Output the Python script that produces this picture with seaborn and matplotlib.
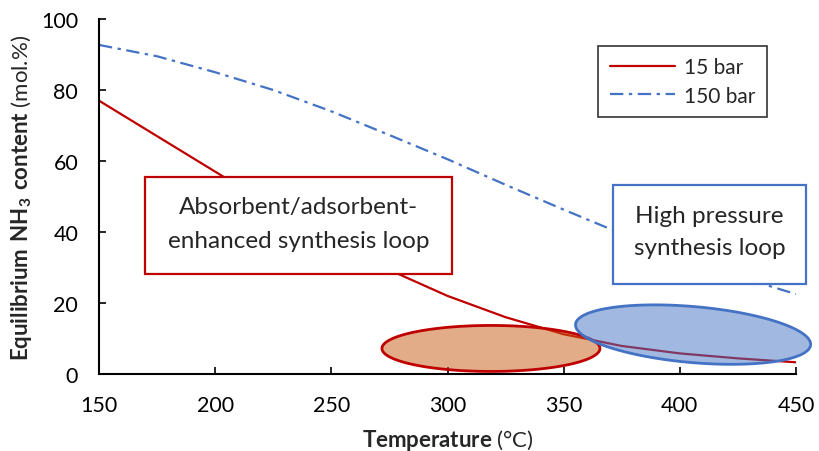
import numpy as np
import pandas as pd
import seaborn as sns
import matplotlib.pyplot as plt
from matplotlib.patches import Rectangle, Polygon

sns.set_theme(style="white")
plt.rcParams["font.family"] = ["Lato", "DejaVu Sans"]
plt.rcParams["mathtext.fontset"] = "custom"
plt.rcParams["mathtext.bf"] = "Lato:bold"
plt.rcParams["mathtext.rm"] = "Lato"

# data
temperature = [150, 175, 200, 225, 250, 275, 300, 325, 350, 375, 400, 425, 450]
nh3_15bar = [77, 67, 57, 47, 37.5, 29.3, 22, 16, 11.2, 7.9, 5.8, 4.4, 3.3]
nh3_150bar = [92.7, 89.5, 85, 80, 74, 67.3, 60.5, 53.3, 46.3, 39.5, 33, 27.5, 22.5]
series = ["15 bar", "150 bar"]
colors = {"15 bar": "#C00000", "150 bar": "#4472C4"}

df = pd.DataFrame({
    "T": temperature * 2,
    "NH3": nh3_15bar + nh3_150bar,
    "p": [series[0]] * len(temperature) + [series[1]] * len(temperature),
})

W, H = 819, 452
fig = plt.figure(figsize=(W / 100, H / 100), dpi=100)
L, R, T_, B = 99, 796, 20, 375
ax = fig.add_axes([L / W, 1 - B / H, (R - L) / W, (B - T_) / H])

sns.lineplot(data=df, x="T", y="NH3", hue="p", style="p", palette=colors,
             dashes={"15 bar": "", "150 bar": (6, 2.5, 1.5, 2.5)},
             linewidth=1.6, ax=ax, zorder=2)

ax.set_xlim(150, 450)
ax.set_ylim(0, 100)
ax.set_xticks(range(150, 451, 50))
ax.set_yticks(range(0, 101, 20))
for s in ["top", "right"]:
    ax.spines[s].set_visible(False)
for s in ["left", "bottom"]:
    ax.spines[s].set_color("black")
    ax.spines[s].set_linewidth(1.5)
ax.tick_params(direction="in", length=5, width=1.2, colors="black",
               labelsize=15.5, left=True, bottom=True)
ax.tick_params(axis="x", pad=15)
ax.tick_params(axis="y", pad=15)
ax.set_xlabel(r"$\bf{Temperature}$ (°C)", fontsize=16, labelpad=9)
ax.set_ylabel(r"$\bf{Equilibrium\ NH_3\ content}$ (mol.%)", fontsize=16, labelpad=5)

leg = ax.legend(loc="upper right", bbox_to_anchor=(0.958, 0.924), frameon=True,
                fancybox=False, edgecolor="black", handlelength=3.1,
                handletextpad=0.45, borderaxespad=0,
                prop={"family": "Lato", "size": 15}, borderpad=0.55,
                labelspacing=0.4)
leg.get_frame().set_linewidth(1.2)
leg.set_title(None)

# pixel-space ellipses converted to data units
sx = (R - L) / 300.0
sy = (B - T_) / 100.0


def ellipse(cx, cy, a, b, ang, fc, ec):
    t = np.linspace(0, 2 * np.pi, 200)
    th = np.deg2rad(ang)
    px = a * np.cos(t) * np.cos(th) - b * np.sin(t) * np.sin(th)
    py = a * np.cos(t) * np.sin(th) + b * np.sin(t) * np.cos(th)
    pts = np.column_stack([cx + px / sx, cy + py / sy])
    ax.add_patch(Polygon(pts, closed=True, facecolor=fc, edgecolor="none",
                         alpha=0.5, zorder=3, clip_on=False))
    ax.add_patch(Polygon(pts, closed=True, facecolor="none", edgecolor=ec,
                         linewidth=2, zorder=3, clip_on=False))


ellipse(318.7, 7.2, 109, 23, 0, "#C55A11", "#C00000")
ellipse(405.7, 11.1, 118, 28, -5, "#4472C4", "#4472C4")

# text boxes
ax.add_patch(Rectangle((169.8, 28.2), 132.2, 27.3, facecolor="white",
                       edgecolor="#C00000", linewidth=1.6, zorder=4, clip_on=False))
ax.text(236, 42.3, "Absorbent/adsorbent-\nenhanced synthesis loop", ha="center",
        va="center", fontsize=17.5, family="Lato", linespacing=1.75, zorder=5)
ax.add_patch(Rectangle((371.3, 25.4), 83, 27.8, facecolor="white",
                       edgecolor="#4472C4", linewidth=1.6, zorder=4, clip_on=False))
ax.text(412.8, 40.2, "High pressure\nsynthesis loop", ha="center",
        va="center", fontsize=17.5, family="Lato", linespacing=1.65, zorder=5)

fig.savefig("out.png", dpi=100)
